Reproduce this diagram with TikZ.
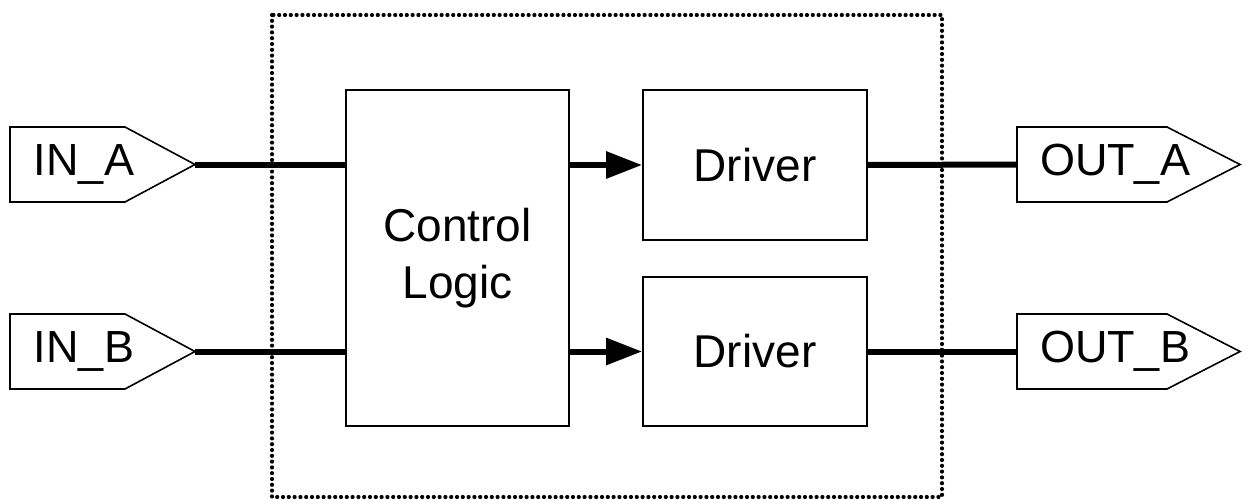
\documentclass[tikz,border=0pt]{standalone}
\usepackage{fontspec}
\setmainfont{Liberation Sans}
\usetikzlibrary{arrows.meta}
\tikzset{
  blockbox/.style={draw=black, line width=1.8pt, inner sep=0pt, font=\fontsize{46}{57}\selectfont, align=center},
  porttext/.style={inner sep=0pt, font=\fontsize{45}{54}\selectfont},
  portshape/.style={draw=black, line width=1.6pt},
  wire/.style={line width=6pt},
  sigarrow/.style={line width=6pt, -{Triangle[length=36pt,width=26pt]}},
  dotbox/.style={line width=4.2pt, line cap=round, dash pattern=on 0pt off 5.8pt},
}
\begin{document}
\begin{tikzpicture}[x=1pt,y=-1pt]
\useasboundingbox (0,0) rectangle (1246,500);
% dotted enclosure
\draw[dotbox] (272,15) rectangle (942,497);
% blocks
\node[blockbox, minimum width=223pt, minimum height=336pt] (cl) at (457.5,258) {Control\\Logic};
\node[blockbox, minimum width=224pt, minimum height=150pt] (dra) at (755,165) {Driver};
\node[blockbox, minimum width=224pt, minimum height=149pt] (drb) at (755,351.5) {Driver};
% input ports
\draw[portshape, fill=white] (10,127) -- (125,127) -- (195,164.5) -- (125,202) -- (10,202) -- cycle;
\coordinate (inaTip) at (195,164.5);
\node[porttext] (ina) at (84,164.5) {IN\_A};
\draw[portshape, fill=white] (10,314) -- (125,314) -- (195,351.5) -- (125,389) -- (10,389) -- cycle;
\coordinate (inbTip) at (195,351.5);
\node[porttext] (inb) at (84,351.5) {IN\_B};
% output ports
\draw[portshape, fill=white] (1017,127) -- (1167,127) -- (1240,164.5) -- (1167,202) -- (1017,202) -- cycle;
\coordinate (outaBase) at (1017,164.5);
\node[porttext] (outa) at (1115,164.5) {OUT\_A};
\draw[portshape, fill=white] (1017,314) -- (1167,314) -- (1240,351.5) -- (1167,389) -- (1017,389) -- cycle;
\coordinate (outbBase) at (1017,351.5);
\node[porttext] (outb) at (1115,351.5) {OUT\_B};
% wires
\draw[wire] (inaTip) -- (cl.west |- inaTip);
\draw[wire] (inbTip) -- (cl.west |- inbTip);
\draw[sigarrow] (cl.east |- dra.west) -- (dra.west);
\draw[sigarrow] (cl.east |- drb.west) -- (drb.west);
\draw[wire] (dra.east) -- (outaBase);
\draw[wire] (drb.east) -- (outbBase);
\end{tikzpicture}
\end{document}
